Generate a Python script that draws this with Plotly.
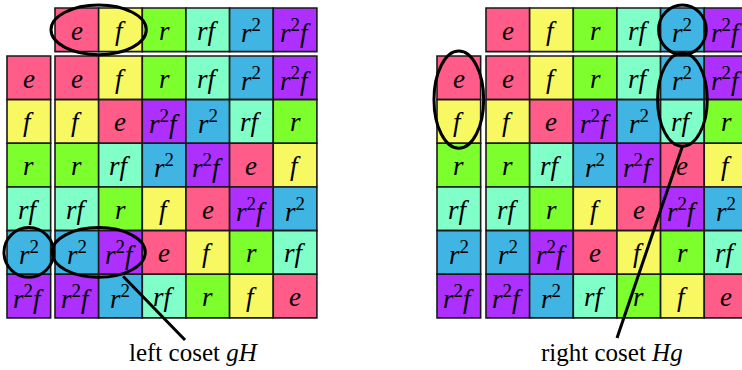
import plotly.graph_objects as go

# group elements of D3 and its Cayley table (row * column)
elements = ["e", "f", "r", "rf", "r2", "r2f"]
table = [
    ["e", "f", "r", "rf", "r2", "r2f"],
    ["f", "e", "r2f", "r2", "rf", "r"],
    ["r", "rf", "r2", "r2f", "e", "f"],
    ["rf", "r", "f", "e", "r2f", "r2"],
    ["r2", "r2f", "e", "f", "r", "rf"],
    ["r2f", "r2", "rf", "r", "f", "e"],
]
colors = {
    "e": "#FF5C8A",
    "f": "#F8F862",
    "r": "#7CFF2C",
    "rf": "#80FFC8",
    "r2": "#40B4E2",
    "r2f": "#AE30FF",
}
labels = {
    "e": "<i>e</i>",
    "f": "<i>f</i>",
    "r": "<i>r</i>",
    "rf": "<i>rf</i>",
    "r2": "<i>r</i><sup>2</sup>",
    "r2f": "<i>r</i><sup>2</sup><i>f</i>",
}

# highlighted cosets: (header columns, side rows, body cells as (row, col))
left_coset = {"header": [0, 1], "side": [4], "body": [(4, 0), (4, 1)]}
right_coset = {"header": [4], "side": [0, 1], "body": [(0, 4), (1, 4)]}
captions = ["left coset <i>gH</i>", "right coset <i>Hg</i>"]

W, H = 742, 370
CELL = 43.65
HEAD_Y, BODY_Y = 8, 56
SERIF = "Liberation Serif, Times New Roman, serif"
tables = [
    {"side_x": 7, "body_x": 55, "coset": left_coset, "caption": captions[0],
     "line_end": (185, 340), "text_at": (194, 352)},
    {"side_x": 437, "body_x": 486, "coset": right_coset, "caption": captions[1],
     "line_end": (617, 338), "text_at": (612, 352)},
]

fig = go.Figure()
shapes = []
annotations = []
font_cell = dict(family=SERIF, size=27, color="black")


def add_cell(x0, y0, name):
    shapes.append(dict(type="rect", xref="x", yref="y", x0=x0, x1=x0 + CELL,
                       y0=y0, y1=y0 + CELL, fillcolor=colors[name],
                       line=dict(color="#1a1a1a", width=1.6), layer="below"))
    annotations.append(dict(x=x0 + CELL / 2, y=y0 + CELL / 2 + 1, xref="x", yref="y",
                            text=labels[name], showarrow=False, font=font_cell))


def ellipse(x0, x1, y0, y1, px=4, py=3):
    shapes.append(dict(type="circle", xref="x", yref="y", x0=x0 - px, x1=x1 + px,
                       y0=y0 - py, y1=y1 + py, line=dict(color="black", width=3)))


for t in tables:
    bx, sx = t["body_x"], t["side_x"]
    for j, el in enumerate(elements):
        add_cell(bx + j * CELL, HEAD_Y, el)
    for i, el in enumerate(elements):
        add_cell(sx, BODY_Y + i * CELL, el)
        for j in range(len(elements)):
            add_cell(bx + j * CELL, BODY_Y + i * CELL, table[i][j])

    c = t["coset"]
    hc = c["header"]
    ellipse(bx + min(hc) * CELL, bx + (max(hc) + 1) * CELL, HEAD_Y, HEAD_Y + CELL,
            px=4 if len(hc) > 1 else 2, py=3)
    sr = c["side"]
    ellipse(sx, sx + CELL, BODY_Y + min(sr) * CELL, BODY_Y + (max(sr) + 1) * CELL,
            px=3, py=5 if len(sr) > 1 else 3)
    rows = [p[0] for p in c["body"]]
    cols = [p[1] for p in c["body"]]
    bx0, bx1 = bx + min(cols) * CELL, bx + (max(cols) + 1) * CELL
    by0, by1 = BODY_Y + min(rows) * CELL, BODY_Y + (max(rows) + 1) * CELL
    ellipse(bx0, bx1, by0, by1, px=3, py=3)

    # pointer line from bottom of body ellipse to the caption
    if len(set(rows)) == 1:
        start = (bx0 + (bx1 - bx0) * 0.78, by1 + 2)
    else:
        start = ((bx0 + bx1) / 2, by1 + 3)
    shapes.append(dict(type="line", xref="x", yref="y", x0=start[0], y0=start[1],
                       x1=t["line_end"][0], y1=t["line_end"][1],
                       line=dict(color="black", width=3)))
    annotations.append(dict(x=t["text_at"][0], y=t["text_at"][1], xref="x", yref="y",
                            text=t["caption"], showarrow=False,
                            font=dict(family=SERIF, size=25, color="black")))

fig.add_trace(go.Scatter(x=[1], y=[1], mode="markers", marker=dict(opacity=0),
                         hoverinfo="skip", showlegend=False))
fig.update_layout(
    width=W, height=H,
    margin=dict(l=0, r=0, t=0, b=0),
    paper_bgcolor="white", plot_bgcolor="white",
    shapes=shapes, annotations=annotations,
    xaxis=dict(range=[0, W], visible=False, fixedrange=True),
    yaxis=dict(range=[H, 0], visible=False, fixedrange=True),
    showlegend=False,
)
# drop the browser's default page margin so the figure sits at the window corner
fig.write_html("out.html", config={"displayModeBar": False},
               post_script="document.body.style.margin='0';")
